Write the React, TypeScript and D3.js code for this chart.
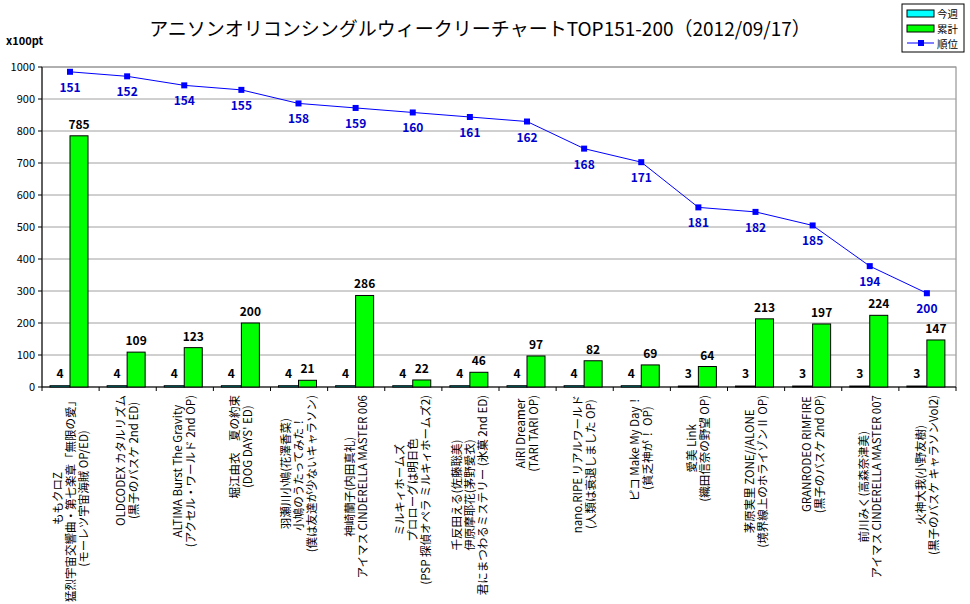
import React, { useEffect, useRef } from "react";
import * as d3 from "d3";

const categories: string[][] = [
  ["ももクロZ", "猛烈宇宙交響曲・第七楽章「無限の愛」", "(モーレツ宇宙海賊 OP/ED)"],
  ["OLDCODEX カタルリズム", "(黒子のバスケ 2nd ED)"],
  ["ALTIMA  Burst The Gravity", "(アクセル・ワールド 2nd OP)"],
  ["堀江由衣　夏の約束", "(DOG DAYS' ED)"],
  ["羽瀬川小鳩(花澤香菜)", "小鳩のうたってみた！", "(僕は友達が少ないキャラソン)"],
  ["神崎蘭子(内田真礼)", "アイマス CINDERELLA MASTER 006"],
  ["ミルキィホームズ", "プロローグは明日色", "(PSP 探偵オペラ ミルキィホームズ2)"],
  ["千反田える(佐藤聡美)", "伊原摩耶花(茅野愛衣)", "君にまつわるミステリー (氷菓 2nd ED)"],
  ["AiRI  Dreamer", "(TARI TARI OP)"],
  ["nano.RIPE リアルワールド", "(人類は衰退しました OP)"],
  ["ピコ  Make My Day！", "(貧乏神が！ OP)"],
  ["愛美  Link", "(織田信奈の野望 OP)"],
  ["茅原実里  ZONE//ALONE", "(境界線上のホライゾンⅡ OP)"],
  ["GRANRODEO  RIMFIRE", "(黒子のバスケ 2nd OP)"],
  ["前川みく(高森奈津美)", "アイマス CINDERELLA MASTER 007"],
  ["火神大我(小野友樹)", "(黒子のバスケ キャラソンVol2)"],
];
const weekly = [4, 4, 4, 4, 4, 4, 4, 4, 4, 4, 4, 3, 3, 3, 3, 3];
const total = [785, 109, 123, 200, 21, 286, 22, 46, 97, 82, 69, 64, 213, 197, 224, 147];
const ranks = [151, 152, 154, 155, 158, 159, 160, 161, 162, 168, 171, 181, 182, 185, 194, 200];
const yTicks = [0, 100, 200, 300, 400, 500, 600, 700, 800, 900, 1000];

const FONT = "'Noto Sans CJK JP', sans-serif";

export default function App() {
  const ref = useRef<SVGSVGElement>(null);
  useEffect(() => {
    const svg = d3.select(ref.current);
    svg.selectAll("*").remove();
    const W = 970, H = 604;
    const L = 42, R = 956, T = 67, B = 387;
    svg.append("rect").attr("width", W).attr("height", H).attr("fill", "#fff");
    const x = d3.scaleBand().domain(d3.range(categories.length).map(String)).range([L, R]).padding(0);
    const y = d3.scaleLinear().domain([0, 1000]).range([B, T]);
    const yr = d3.scaleLinear().domain([151, 200]).range([y(985), y(293)]);
    const bw = x.bandwidth();

    svg.append("rect").attr("x", L).attr("y", T).attr("width", R - L).attr("height", B - T)
      .attr("fill", "none").attr("stroke", "#808080");
    svg.selectAll(".grid").data(yTicks.slice(1)).join("line")
      .attr("x1", L).attr("x2", R).attr("y1", d => y(d)).attr("y2", d => y(d))
      .attr("stroke", "#a0a0a0");
    svg.append("line").attr("x1", L).attr("x2", L).attr("y1", T).attr("y2", B).attr("stroke", "#000");
    svg.append("line").attr("x1", L).attr("x2", R).attr("y1", B).attr("y2", B).attr("stroke", "#000");
    svg.selectAll(".yt").data(yTicks).join("line")
      .attr("x1", L - 4).attr("x2", L).attr("y1", d => y(d)).attr("y2", d => y(d)).attr("stroke", "#000");
    svg.selectAll(".yl").data(yTicks).join("text")
      .attr("x", L - 7).attr("y", d => y(d) + 4).attr("text-anchor", "end")
      .attr("font-size", 11).attr("font-family", FONT).text(d => d);
    svg.selectAll(".xt").data(d3.range(categories.length + 1)).join("line")
      .attr("x1", i => L + i * bw).attr("x2", i => L + i * bw).attr("y1", B).attr("y2", B + 4).attr("stroke", "#000");

    const g = svg.append("g");
    weekly.forEach((v, i) => {
      const x0 = x(String(i))!;
      g.append("rect").attr("x", x0 + 8).attr("y", y(v)).attr("width", 20).attr("height", B - y(v))
        .attr("fill", "#00ffff").attr("stroke", "#000");
      g.append("text").attr("x", x0 + 18).attr("y", y(v) - 8).attr("text-anchor", "middle")
        .attr("font-size", 12).attr("font-weight", "bold").attr("font-family", FONT).text(v);
    });
    total.forEach((v, i) => {
      const x0 = x(String(i))!;
      g.append("rect").attr("x", x0 + 28).attr("y", y(v)).attr("width", 18).attr("height", B - y(v))
        .attr("fill", "#00ff00").attr("stroke", "#000");
      g.append("text").attr("x", x0 + 37).attr("y", y(v) - 7).attr("text-anchor", "middle")
        .attr("font-size", 12).attr("font-weight", "bold").attr("font-family", FONT).text(v);
    });

    const cx = (i: number) => x(String(i))! + 28;
    const line = d3.line<number>().x((_, i) => cx(i)).y(d => yr(d));
    svg.append("path").datum(ranks).attr("d", line).attr("fill", "none").attr("stroke", "#0000ff");
    svg.selectAll(".pt").data(ranks).join("rect")
      .attr("x", (_, i) => cx(i) - 3).attr("y", d => yr(d) - 3).attr("width", 6).attr("height", 6).attr("fill", "#0000ff");
    svg.selectAll(".rl").data(ranks).join("text")
      .attr("x", (_, i) => cx(i)).attr("y", d => yr(d) + 20).attr("text-anchor", "middle")
      .attr("font-size", 12).attr("font-weight", "bold").attr("fill", "#0000cc").attr("font-family", FONT).text(d => d);

    categories.forEach((lines, i) => {
      const c = x(String(i))! + bw / 2;
      const grp = svg.append("g");
      const n = lines.length;
      const ts = lines.map((s, j) =>
        grp.append("text").attr("text-anchor", "middle").attr("font-size", 11.5).attr("font-family", FONT)
          .attr("transform", `translate(${c + (j - (n - 1) / 2) * 13 + 4},0) rotate(-90)`).text(s));
      const maxLen = d3.max(ts, t => (t.node() as SVGTextElement).getComputedTextLength()) || 0;
      grp.attr("transform", `translate(0,${395 + maxLen / 2})`);
    });

    svg.append("text").attr("x", 480).attr("y", 36).attr("text-anchor", "middle")
      .attr("font-size", 19).attr("font-family", FONT).text("アニソンオリコンシングルウィークリーチャートTOP151-200（2012/09/17）");
    svg.append("text").attr("x", 6).attr("y", 45).attr("font-size", 11).attr("font-weight", "bold")
      .attr("font-family", FONT).text("x100pt");

    const lg = svg.append("g").attr("transform", "translate(902,4)");
    lg.append("rect").attr("width", 62).attr("height", 48).attr("fill", "#fff").attr("stroke", "#000");
    lg.append("rect").attr("x", 5).attr("y", 6).attr("width", 27).attr("height", 7).attr("fill", "#00ffff").attr("stroke", "#000");
    lg.append("rect").attr("x", 5).attr("y", 21).attr("width", 27).attr("height", 7).attr("fill", "#00ff00").attr("stroke", "#000");
    lg.append("line").attr("x1", 5).attr("x2", 32).attr("y1", 39).attr("y2", 39).attr("stroke", "#0000ff");
    lg.append("rect").attr("x", 16).attr("y", 36).attr("width", 6).attr("height", 6).attr("fill", "#0000ff");
    ["今週", "累計", "順位"].forEach((s, j) =>
      lg.append("text").attr("x", 35).attr("y", 14 + j * 15).attr("font-size", 10.5).attr("font-family", FONT).text(s));
  }, []);
  return <svg ref={ref} width={970} height={604} style={{ position: "absolute", left: 0, top: 0 }} />;
}
